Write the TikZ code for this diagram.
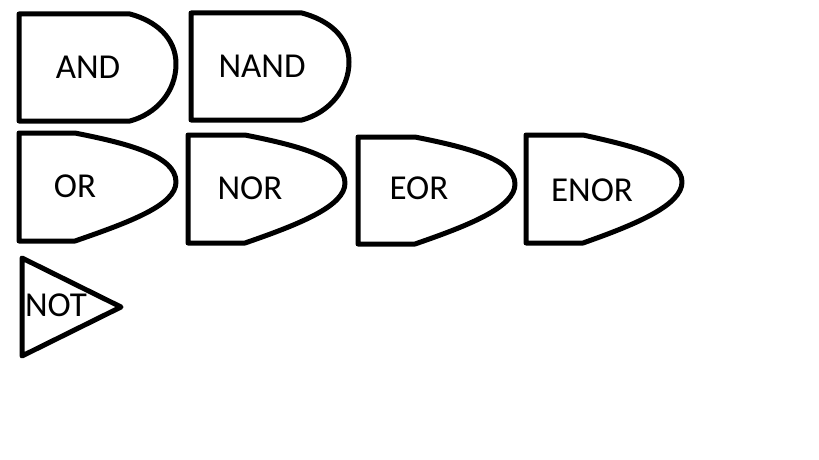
\documentclass[tikz,border=0pt]{standalone}
\usepackage{fontspec}
\setmainfont{Carlito}
\tikzset{
	gate/.style={line width=5pt, line join=round, line cap=round},
	gatename/.style={font=\fontsize{35}{35}\selectfont, inner sep=0pt}
}

\begin{document}
\begin{tikzpicture}[x=1pt, y=-1pt]

	\useasboundingbox (0, 0) rectangle (819, 460);

	\draw[gate] (19, 14)--(130, 14) .. controls (156, 21) and (176, 38) .. (176, 64) .. controls (176, 92) and (156, 114) .. (130, 121)--(19, 121)--cycle;
	\draw[gate] (191, 13)--(302, 13) .. controls (328, 20) and (349, 36) .. (349, 62) .. controls (349, 90) and (328, 113) .. (302, 120)--(191, 120)--cycle;

	\draw[gate] (19, 133)--(75, 133) .. controls (125, 143) and (176, 155) .. (176, 182) .. controls (176, 205) and (130, 222) .. (75, 241)--(19, 241)--cycle;
	\draw[gate] (188, 135)--(245, 135) .. controls (295, 145) and (345, 157) .. (345, 183) .. controls (345, 206) and (300, 224) .. (245, 243)--(188, 243)--cycle;
	\draw[gate] (358, 137)--(415, 137) .. controls (465, 147) and (515, 159) .. (515, 184) .. controls (515, 207) and (470, 225) .. (415, 244)--(358, 244)--cycle;
	\draw[gate] (526, 135)--(583, 135) .. controls (633, 146) and (682, 158) .. (682, 182) .. controls (682, 205) and (637, 224) .. (583, 243)--(526, 243)--cycle;

	\draw[gate] (22, 258)--(121, 307)--(22, 356)--cycle;

	\node[gatename] (and) at (88, 67) {AND};
	\node[gatename] (nand) at (262, 66) {NAND};
	\node[gatename] (or) at (75, 186) {OR};
	\node[gatename] (nor) at (250, 188) {NOR};
	\node[gatename] (eor) at (419, 188) {EOR};
	\node[gatename] (enor) at (592, 190) {ENOR};
	\node[gatename] (not) at (56, 305) {NOT};
\end{tikzpicture}
\end{document}
